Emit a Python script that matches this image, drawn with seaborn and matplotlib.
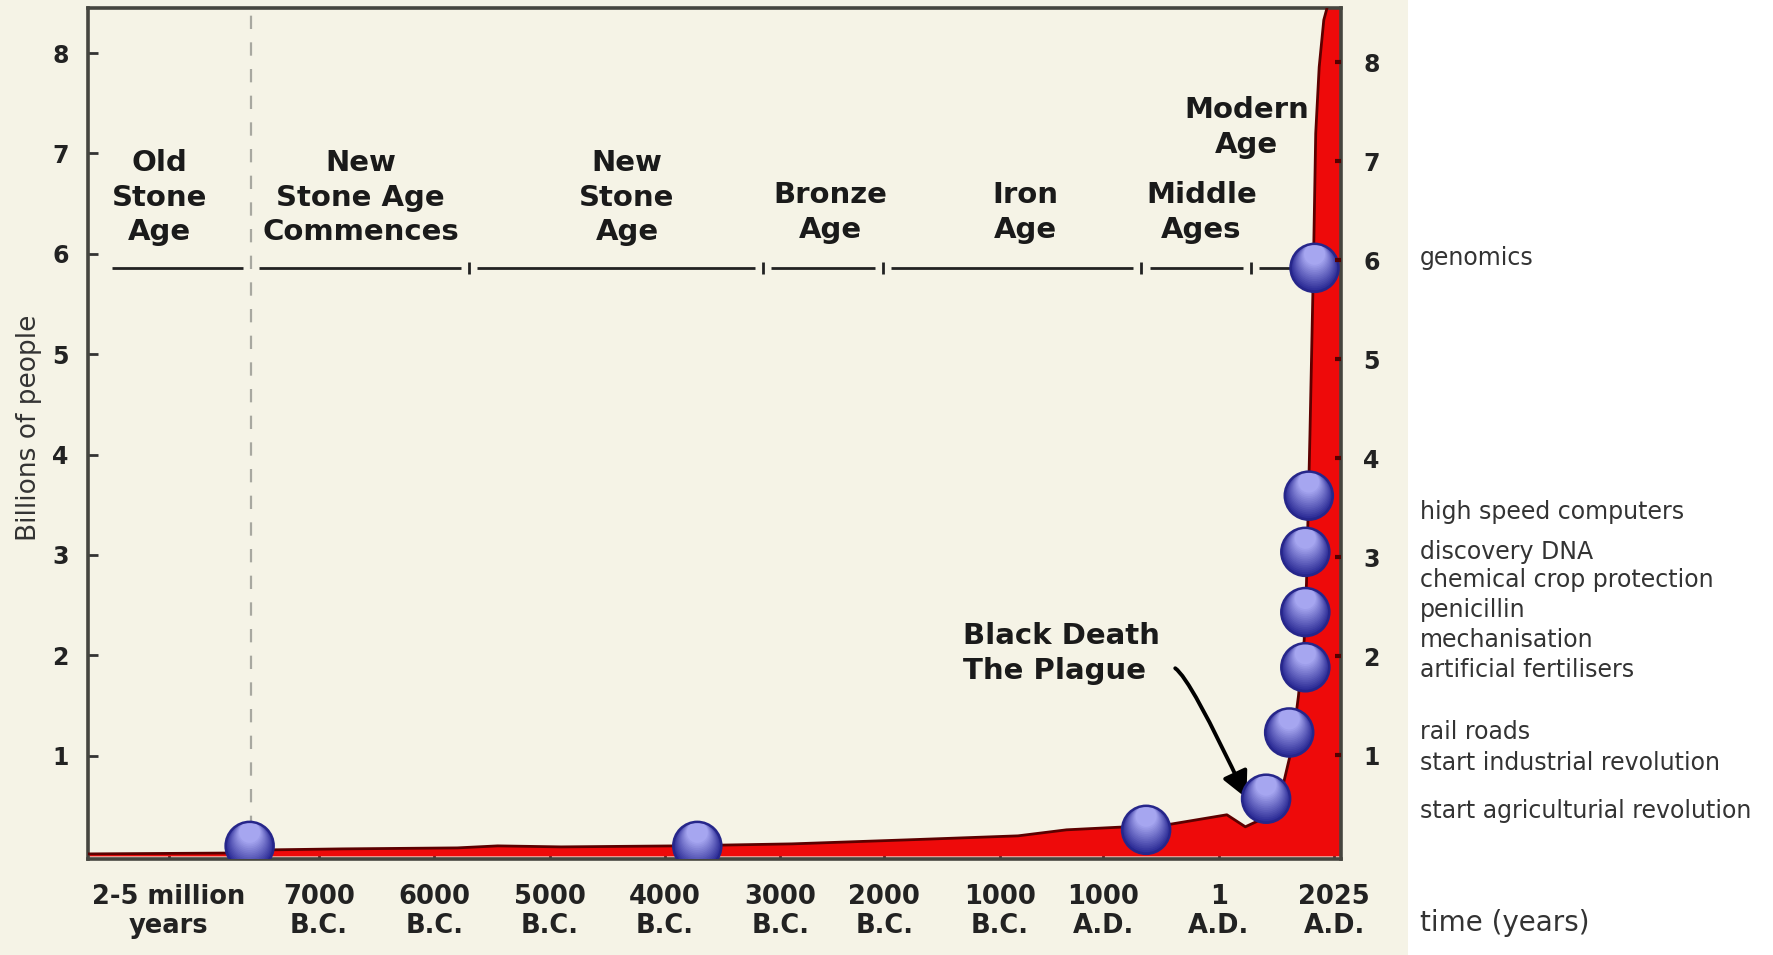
import numpy as np
import pandas as pd
import matplotlib.pyplot as plt
import matplotlib.transforms as mtransforms
from matplotlib.patches import Rectangle
import seaborn as sns

sns.set_theme(style="white")
plt.rcParams["font.family"] = ["DejaVu Sans"]

BEIGE = "#f5f3e6"
RED = "#ee0a0a"

# x is a compressed "position" scale (about one unit per millennium)
TICK_POS = [0.7, 2.0, 3.0, 4.0, 5.0, 6.0, 6.9, 7.9, 8.8, 9.8, 10.8]
TICK_LABELS = ["2-5 million\nyears", "7000\nB.C.", "6000\nB.C.", "5000\nB.C.",
               "4000\nB.C.", "3000\nB.C.", "2000\nB.C.", "1000\nB.C.",
               "1000\nA.D.", "1\nA.D.", "2025\nA.D."]

# world population (billions) along that scale
POP_X = [0.0, 1.39, 1.55, 2.2, 3.2, 3.55, 4.1, 5.1, 6.1, 7.1, 8.06, 8.48, 9.35,
         9.87, 10.03, 10.16, 10.36, 10.43, 10.49, 10.54, 10.56, 10.59, 10.62,
         10.64, 10.67, 10.71, 10.75, 10.86]
POP_Y = [0.02, 0.03, 0.06, 0.07, 0.08, 0.10, 0.09, 0.10, 0.12, 0.16, 0.20, 0.26,
         0.31, 0.41, 0.29, 0.36, 0.72, 1.06, 1.59, 2.15, 2.72, 4.20, 5.87,
         7.20, 7.86, 8.33, 8.50, 8.50]

# milestone balls
MILE_X = [1.40, 5.28, 9.17, 10.21, 10.41, 10.55, 10.55, 10.55, 10.58, 10.63]
MILE_Y = [0.10, 0.10, 0.26, 0.57, 1.23, 1.88, 2.43, 3.03, 3.59, 5.86]

ERA_LABELS = ["Old\nStone\nAge", "New\nStone Age\nCommences", "New\nStone\nAge",
              "Bronze\nAge", "Iron\nAge", "Middle\nAges", "Modern\nAge"]
ERA_X = [0.62, 2.36, 4.67, 6.43, 8.12, 9.65, 10.04]
ERA_Y = [6.56, 6.56, 6.56, 6.41, 6.41, 6.41, 7.26]
ERA_BREAKS = [0.14, 1.41, 3.30, 5.85, 6.89, 9.13, 10.08, 10.62]
ERA_LINE_Y = 5.86

SIDE_LABELS = ["genomics", "high speed computers", "discovery DNA",
               "chemical crop protection", "penicillin", "mechanisation",
               "artificial fertilisers", "rail roads",
               "start industrial revolution", "start agriculturial revolution"]
SIDE_Y = [0.730, 0.464, 0.4225, 0.393, 0.361, 0.330, 0.298, 0.234, 0.201, 0.151]

df = pd.DataFrame({"x": POP_X, "pop": POP_Y})
balls = pd.DataFrame({"x": MILE_X, "pop": MILE_Y})

fig = plt.figure(figsize=(17.73, 9.55), dpi=100)
fig.patches.append(Rectangle((0, 0), 0.794, 1, transform=fig.transFigure,
                             facecolor=BEIGE, edgecolor="none", zorder=-10))
ax = fig.add_axes([0.0497, 0.1006, 0.7067, 0.8911])
ax.set_facecolor(BEIGE)

# population area
ax.fill_between(df["x"], 0, df["pop"], color=RED, zorder=2, linewidth=0)
sns.lineplot(data=df, x="x", y="pop", ax=ax, color="#5c0000", lw=2,
             zorder=3, sort=False)

# era timeline
for a, b in zip(ERA_BREAKS[:-1], ERA_BREAKS[1:]):
    ax.hlines(ERA_LINE_Y, a + 0.07, b - 0.07, color="#222222", lw=2, zorder=4)
for b in ERA_BREAKS[2:-1]:
    ax.vlines(b, ERA_LINE_Y - 0.06, ERA_LINE_Y + 0.06, color="#222222", lw=2, zorder=4)
ax.vlines(ERA_BREAKS[1], 0.27, 8.45, color="#a8a8a0", lw=1.6,
          linestyles=(0, (6, 6)), zorder=1)

for lab, x, y in zip(ERA_LABELS, ERA_X, ERA_Y):
    ax.text(x, y, lab, ha="center", va="center", fontsize=21,
            fontweight="bold", color="#1a1a1a", linespacing=1.3)

# Black Death note
ax.text(7.58, 2.02, "Black Death\nThe Plague", ha="left", va="center",
        fontsize=21, fontweight="bold", color="#1a1a1a", linespacing=1.3)
ax.annotate("", xy=(10.05, 0.55), xytext=(9.40, 1.88),
            arrowprops=dict(arrowstyle="-|>", color="black", lw=2.8,
                            mutation_scale=40,
                            connectionstyle="angle3,angleA=0,angleB=-65"),
            zorder=6)

# milestone balls with a light-top / dark-bottom shading
R = 17.3
n_layers = 16
dark = np.array([0.16, 0.16, 0.58])
light = np.array([0.65, 0.65, 0.94])
sns.scatterplot(data=balls, x="x", y="pop", ax=ax, s=(2 * R) ** 2,
                color=dark, edgecolor="none", zorder=7, legend=False)
for k in range(1, n_layers):
    frac = 1 - 0.6 * k / n_layers
    r = R * frac
    tr = mtransforms.offset_copy(ax.transData, fig=fig, x=0, y=R - r, units="points")
    col = dark + (light - dark) * (k / (n_layers - 1))
    ax.scatter(balls["x"], balls["pop"], s=(2 * r) ** 2, color=col,
               edgecolor="none", transform=tr, zorder=7 + k * 0.01)
ax.scatter(balls["x"], balls["pop"], s=(2 * R) ** 2, facecolor="none",
           edgecolor="#26268a", linewidth=1.8, zorder=8)

# axes styling
ax.set_xlim(0, 10.86)
ax.set_ylim(-0.03, 8.45)
ax.set_xticks(TICK_POS)
ax.set_xticklabels(TICK_LABELS, fontsize=18.5, fontweight="bold",
                   color="#222222", linespacing=1.15)
ax.set_yticks(range(1, 9))
ax.set_yticklabels([str(i) for i in range(1, 9)], fontsize=17,
                   fontweight="bold", color="#222222")
ax.tick_params(axis="y", direction="in", length=7, width=2, color="#333333",
               pad=14, left=True)
ax.tick_params(axis="x", direction="in", length=4, width=2, color="#333333",
               pad=18, bottom=True)
ax.set_xlabel("")
ax.set_ylabel("Billions of people", fontsize=19, color="#333333")
ax.yaxis.set_label_coords(-0.037, 0.507)
for sp in ax.spines.values():
    sp.set_color("#45453f")
    sp.set_linewidth(2.6)

ax2 = ax.twinx()
ax2.set_ylim(-0.05, 8.55)
ax2.set_yticks(range(1, 9))
ax2.set_yticklabels([str(i) for i in range(1, 9)], fontsize=17,
                    fontweight="bold", color="#222222")
ax2.tick_params(axis="y", direction="in", length=4, width=3, color="#550000",
                pad=16, right=True)
ax2.grid(False)
for sp in ax2.spines.values():
    sp.set_visible(False)

# side notes
for lab, y in zip(SIDE_LABELS, SIDE_Y):
    fig.text(0.801, y, lab, ha="left", va="center", fontsize=17, color="#333333")
fig.text(0.801, 0.033, "time (years)", ha="left", va="center", fontsize=20,
         color="#333333")

fig.savefig("out.png", dpi=100, facecolor="white")
